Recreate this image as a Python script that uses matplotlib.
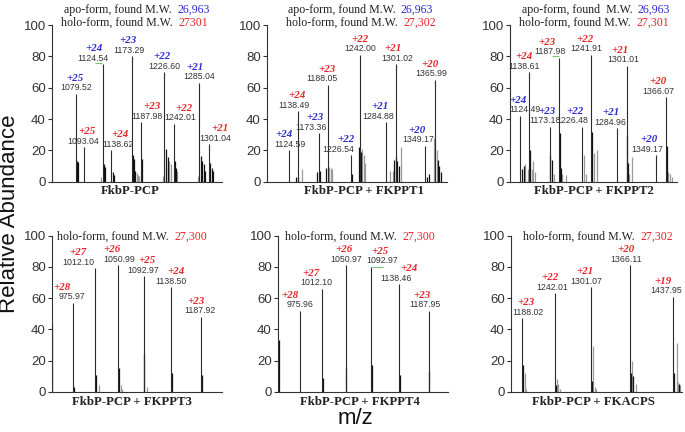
"""
ESI-MS spectra of FkbP-PCP with and without phosphopantetheinyl transferases.
"""
import matplotlib
matplotlib.use('Agg')

import matplotlib.pyplot as plt

plt.rcParams['font.family'] = ['Liberation Sans', 'DejaVu Sans']

SERIF = ['Liberation Serif', 'DejaVu Serif']
BLUE = '#2b2bcf'
RED = '#e5262a'

# ---- panel 1: FkbP-PCP ----
P1_MZ = [1079.52, 1093.04, 1124.54, 1138.62, 1173.29, 1187.98, 1226.60, 1242.01, 1285.04, 1301.04]
P1_INT = [56, 22, 75, 20, 80, 38, 70, 37, 63, 24]
P1_Z = [25, 25, 24, 24, 23, 23, 22, 22, 21, 21]
P1_FORM = ['apo', 'holo'] * 5
P1_SAT_MZ = [1081.2, 1084.0, 1126.2, 1128.4, 1140.8, 1143.0, 1174.4, 1176.0, 1178.3, 1189.1,
             1229.9, 1232.1, 1243.7, 1245.9, 1287.8, 1290.0, 1292.2, 1294.4, 1303.3, 1305.5, 1307.7]
P1_SAT_INT = [13.5, 12.4, 11, 9.6, 6, 4, 17, 14.7, 7, 14.7,
              21, 15.6, 13, 9, 16.7, 13, 11, 7, 12, 9, 7]
P1_GREY_MZ = [1121.8, 1180.5, 1182.7, 1184.9, 1224.4, 1228.8, 1234.3, 1237.7, 1248.6, 1282.8]
P1_GREY_INT = [3, 5.5, 4.5, 3.5, 3.5, 9, 13.5, 11.4, 7, 3.5]

# ---- panel 2: FkbP-PCP + FKPPT1 ----
P2_MZ = [1124.59, 1138.49, 1173.36, 1188.05, 1226.54, 1242.00, 1284.88, 1301.02, 1349.17, 1365.99]
P2_INT = [20, 45, 31, 62, 17, 81, 38, 75, 23, 65]
P2_Z = [24, 24, 23, 23, 22, 22, 21, 21, 20, 20]
P2_FORM = ['apo', 'holo'] * 5
P2_SAT_MZ = [1135.7, 1139.5, 1171.2, 1176.1, 1185.5, 1228.1, 1240.3, 1243.6, 1298.9, 1302.3,
             1303.9, 1306.2, 1353.7, 1357.1, 1371.4, 1373.7, 1375.9]
P2_SAT_INT = [3, 3, 6, 7, 8.5, 5, 22, 19, 14, 16, 13, 10, 3, 5, 14, 10, 6]
P2_GREY_MZ = [1145.1, 1190.0, 1193.3, 1195.5, 1245.8, 1248.1, 1250.3, 1291.8, 1296.2, 1309.5,
              1364.3, 1367.0, 1369.2]
P2_GREY_INT = [8, 9.6, 8.5, 8, 21, 17, 12, 7, 7, 22, 28, 26, 20]

# ---- panel 3: FkbP-PCP + FKPPT2 ----
P3_MZ = [1124.49, 1138.61, 1173.18, 1187.98, 1226.48, 1241.91, 1284.96, 1301.01, 1349.17, 1366.07]
P3_INT = [42, 70, 35, 79, 35, 81, 34, 74, 17, 54]
P3_Z = [24, 24, 23, 23, 22, 22, 21, 21, 20, 20]
P3_FORM = ['apo', 'holo'] * 5
P3_SAT_MZ = [1127.3, 1130.1, 1140.0, 1174.3, 1176.5, 1189.7, 1192.0, 1242.8, 1302.0, 1303.1, 1367.7]
P3_SAT_INT = [8, 10, 20, 17, 14, 31, 9, 32, 30, 12, 23]
P3_GREY_MZ = [1132.8, 1136.7, 1143.3, 1146.1, 1148.9, 1179.8, 1194.2, 1200.3, 1229.5, 1232.9,
              1246.1, 1251.1, 1305.3, 1310.2, 1369.9, 1372.7, 1375.5]
P3_GREY_INT = [11, 8, 8, 13, 6, 5, 5, 4, 17, 5, 18, 20, 5, 16, 6, 5, 3]

# ---- panel 4: FkbP-PCP + FKPPT3 ----
P4_MZ = [975.97, 1012.10, 1050.99, 1092.97, 1138.50, 1187.92]
P4_INT = [57, 79, 81, 74, 67, 48]
P4_Z = [28, 27, 26, 25, 24, 23]
P4_FORM = ['holo'] * 6
P4_SAT_MZ = [941.8, 977.1, 1013.5, 1052.6, 1094.1, 1139.9, 1189.1]
P4_SAT_INT = [43, 3, 11, 15, 24, 12, 11]
P4_GREY_MZ = [1018.5, 1054.9, 1056.6, 1098.5]
P4_GREY_INT = [4, 4, 2, 3]

# ---- panel 5: FkbP-PCP + FKPPT4 ----
P5_MZ = [975.96, 1012.10, 1050.97, 1092.97, 1138.46, 1187.95]
P5_INT = [52, 66, 81, 80, 69, 52]
P5_Z = [28, 27, 26, 25, 24, 23]
P5_FORM = ['holo'] * 6
P5_SAT_MZ = [940.8, 1013.4, 1052.1, 1094.1, 1139.9, 1189.0]
P5_SAT_INT = [33, 9, 15, 17, 11, 13]
P5_GREY_MZ = []
P5_GREY_INT = []

# ---- panel 6: FkbP-PCP + FKACPS ----
P6_MZ = [1188.02, 1242.01, 1301.07, 1366.11, 1437.95]
P6_INT = [47, 63, 67, 81, 61]
P6_Z = [23, 22, 21, 20, 19]
P6_FORM = ['holo'] * 5
P6_SAT_MZ = [1189.1, 1243.2, 1303.3, 1367.8, 1371.8, 1439.6, 1447.3]
P6_SAT_INT = [17, 4, 7, 12, 10, 12, 5]
P6_GREY_MZ = [1191.9, 1194.1, 1245.4, 1247.6, 1249.8, 1305.0, 1307.8, 1310.5, 1369.6, 1375.6,
              1443.5, 1445.1, 1449.0]
P6_GREY_INT = [12, 2, 8, 5, 2, 29, 3, 2, 20, 5, 31, 6, 4]

TITLES = ['FkbP-PCP', 'FkbP-PCP + FKPPT1', 'FkbP-PCP + FKPPT2',
          'FkbP-PCP + FKPPT3', 'FkbP-PCP + FKPPT4', 'FkbP-PCP + FKACPS']
APO_MW = ['26,963', '26,963', '26,963', None, None, None]
HOLO_MW = ['27301', '27,302', '27,301', '27,300', '27,300', '27,302']

# little green marks left on the original spectra (mz start, mz end, level)
GREEN = [(1111.5, 1122.6, 76), None, (1177.5, 1188.6, 80), None, (1092.1, 1113.0, 80), None]

# ---- layout (pixels of the 685x432 canvas) ----
W, H = 685, 432
AX_PX = [(52, 222, 25, 181.7), (267, 447, 25, 181.7), (510, 677, 25, 181.7),
         (52, 222, 235.7, 391.7), (278, 448, 235.7, 391.7), (511, 682, 235.7, 391.7)]
XLIM = [(1040, 1322.6), (1087.6, 1386.4), (1107.4, 1384.3),
        (941.2, 1222.7), (939.1, 1219.8), (1169.3, 1452.3)]
TITLE_X = [0.46, 0.54, 0.5, 0.47, 0.48, 0.48]
HEAD_X = [(64.3, 61), (287.7, 286), (521.7, 519.3), (None, 57.3), (None, 285), (None, 523.3)]
# horizontal shifts of the m/z labels and charge labels (px)
NUM_DX = [[0, -1, -10, 7, -3, 6, 0, 7, 0, 6.5],
          [1, -4, -8, -6, -12, 0, -8, 2, -6, -3],
          [5, -5, -5, -9, -10, -5, -7, -3, -9, -8],
          [-1, -17, 1, 0, 0, -1],
          [0, -6, 0, 11, -3, -4],
          [6, -3, -4, -4, -7]]
CH_DX = [[-1, 3, -9, 9, -4, 11, -2, 10, -4, 11],
         [-5, -1, -4, -1, -5, 0, -6, -3, -8, -5],
         [-2, -5, -3, -12, -7, -6, -6, -7, -7, -8],
         [-11, -17, -6, 3, 5, -5],
         [-10, -11, -2, 9, 10, -7],
         [4, -5, -6, -4, -10]]

PANELS = [
    (P1_MZ, P1_INT, P1_Z, P1_FORM, P1_SAT_MZ, P1_SAT_INT, P1_GREY_MZ, P1_GREY_INT),
    (P2_MZ, P2_INT, P2_Z, P2_FORM, P2_SAT_MZ, P2_SAT_INT, P2_GREY_MZ, P2_GREY_INT),
    (P3_MZ, P3_INT, P3_Z, P3_FORM, P3_SAT_MZ, P3_SAT_INT, P3_GREY_MZ, P3_GREY_INT),
    (P4_MZ, P4_INT, P4_Z, P4_FORM, P4_SAT_MZ, P4_SAT_INT, P4_GREY_MZ, P4_GREY_INT),
    (P5_MZ, P5_INT, P5_Z, P5_FORM, P5_SAT_MZ, P5_SAT_INT, P5_GREY_MZ, P5_GREY_INT),
    (P6_MZ, P6_INT, P6_Z, P6_FORM, P6_SAT_MZ, P6_SAT_INT, P6_GREY_MZ, P6_GREY_INT),
]

PT = 0.72  # points per pixel at dpi 100


def header(fig, ax, x_px, y_px, label, value, color):
    # black caption, then the coloured mass placed right after it
    t = fig.text(x_px / W, 1 - y_px / H, label, ha='left', va='center',
                 family=SERIF, fontsize=8.6, color='#222222')
    ax.annotate(value, xy=(1, 0), xycoords=t, xytext=(4, 0), textcoords='offset points',
                ha='left', va='bottom', family=SERIF, fontsize=8.6, color=color,
                annotation_clip=False)


fig = plt.figure(figsize=(W / 100, H / 100), dpi=100)

for i, (mz, inten, zs, forms, smz, sint, gmz, gint) in enumerate(PANELS):
    x0, x1, y0, y1 = AX_PX[i]
    ax = fig.add_axes([x0 / W, 1 - y1 / H, (x1 - x0) / W, (y1 - y0) / H])
    ax.set_xlim(*XLIM[i])
    ax.set_ylim(0, 100)

    ax.vlines(gmz, 0, gint, colors='#9a9a9a', linewidth=0.9)
    ax.vlines(smz, 0, sint, colors='#111111', linewidth=0.9)
    ax.vlines(mz, 0, inten, colors='#2a2a2a', linewidth=0.8)
    if GREEN[i]:
        g0, g1, lvl = GREEN[i]
        ax.hlines(lvl, g0, g1, colors='#7cc47c', linewidth=0.8)

    for j, (m, v, z, f) in enumerate(zip(mz, inten, zs, forms)):
        ax.annotate(f'{m:.2f}', xy=(m, v), xytext=(NUM_DX[i][j] * PT, 6 * PT),
                    textcoords='offset points', ha='center', va='center',
                    fontsize=6.3, color='#333333')
        ax.annotate(f'+{z}', xy=(m, v), xytext=(CH_DX[i][j] * PT, 15.5 * PT),
                    textcoords='offset points', ha='center', va='center',
                    family=SERIF, fontsize=7.8, fontweight='bold', fontstyle='italic',
                    color=BLUE if f == 'apo' else RED)

    for side in ('top', 'right'):
        ax.spines[side].set_visible(False)
    for side in ('left', 'bottom'):
        ax.spines[side].set_color('#333333')
        ax.spines[side].set_linewidth(0.8)
    ax.set_xticks([])
    ax.set_yticks([0, 20, 40, 60, 80, 100])
    ax.tick_params(axis='y', length=3, width=0.8, pad=1.5, labelsize=9.5,
                   colors='#333333')

    below = 9 if i < 3 else 10
    ax.annotate(TITLES[i], xy=(TITLE_X[i], 0), xycoords='axes fraction',
                xytext=(0, -below * PT), textcoords='offset points',
                ha='center', va='center', family=SERIF, fontsize=9.2,
                fontweight='bold', color='#222222')

    apo_x, holo_x = HEAD_X[i]
    if APO_MW[i]:
        lab = 'apo-form, found  M.W.' if i == 2 else 'apo-form, found M.W.'
        header(fig, ax, apo_x, 10, lab, APO_MW[i], BLUE)
        header(fig, ax, holo_x, 23, 'holo-form, found M.W.', HOLO_MW[i], RED)
    else:
        header(fig, ax, holo_x, 236.7, 'holo-form, found M.W.', HOLO_MW[i], RED)

fig.text(10 / W, 1 - 214 / H, 'Relative Abundance', rotation=90, ha='center',
         va='center', fontsize=16, color='#111111')
fig.text(355 / W, 1 - 419 / H, 'm/z', ha='center', va='center', fontsize=16,
         color='#111111')

fig.savefig('out.png', dpi=100)
